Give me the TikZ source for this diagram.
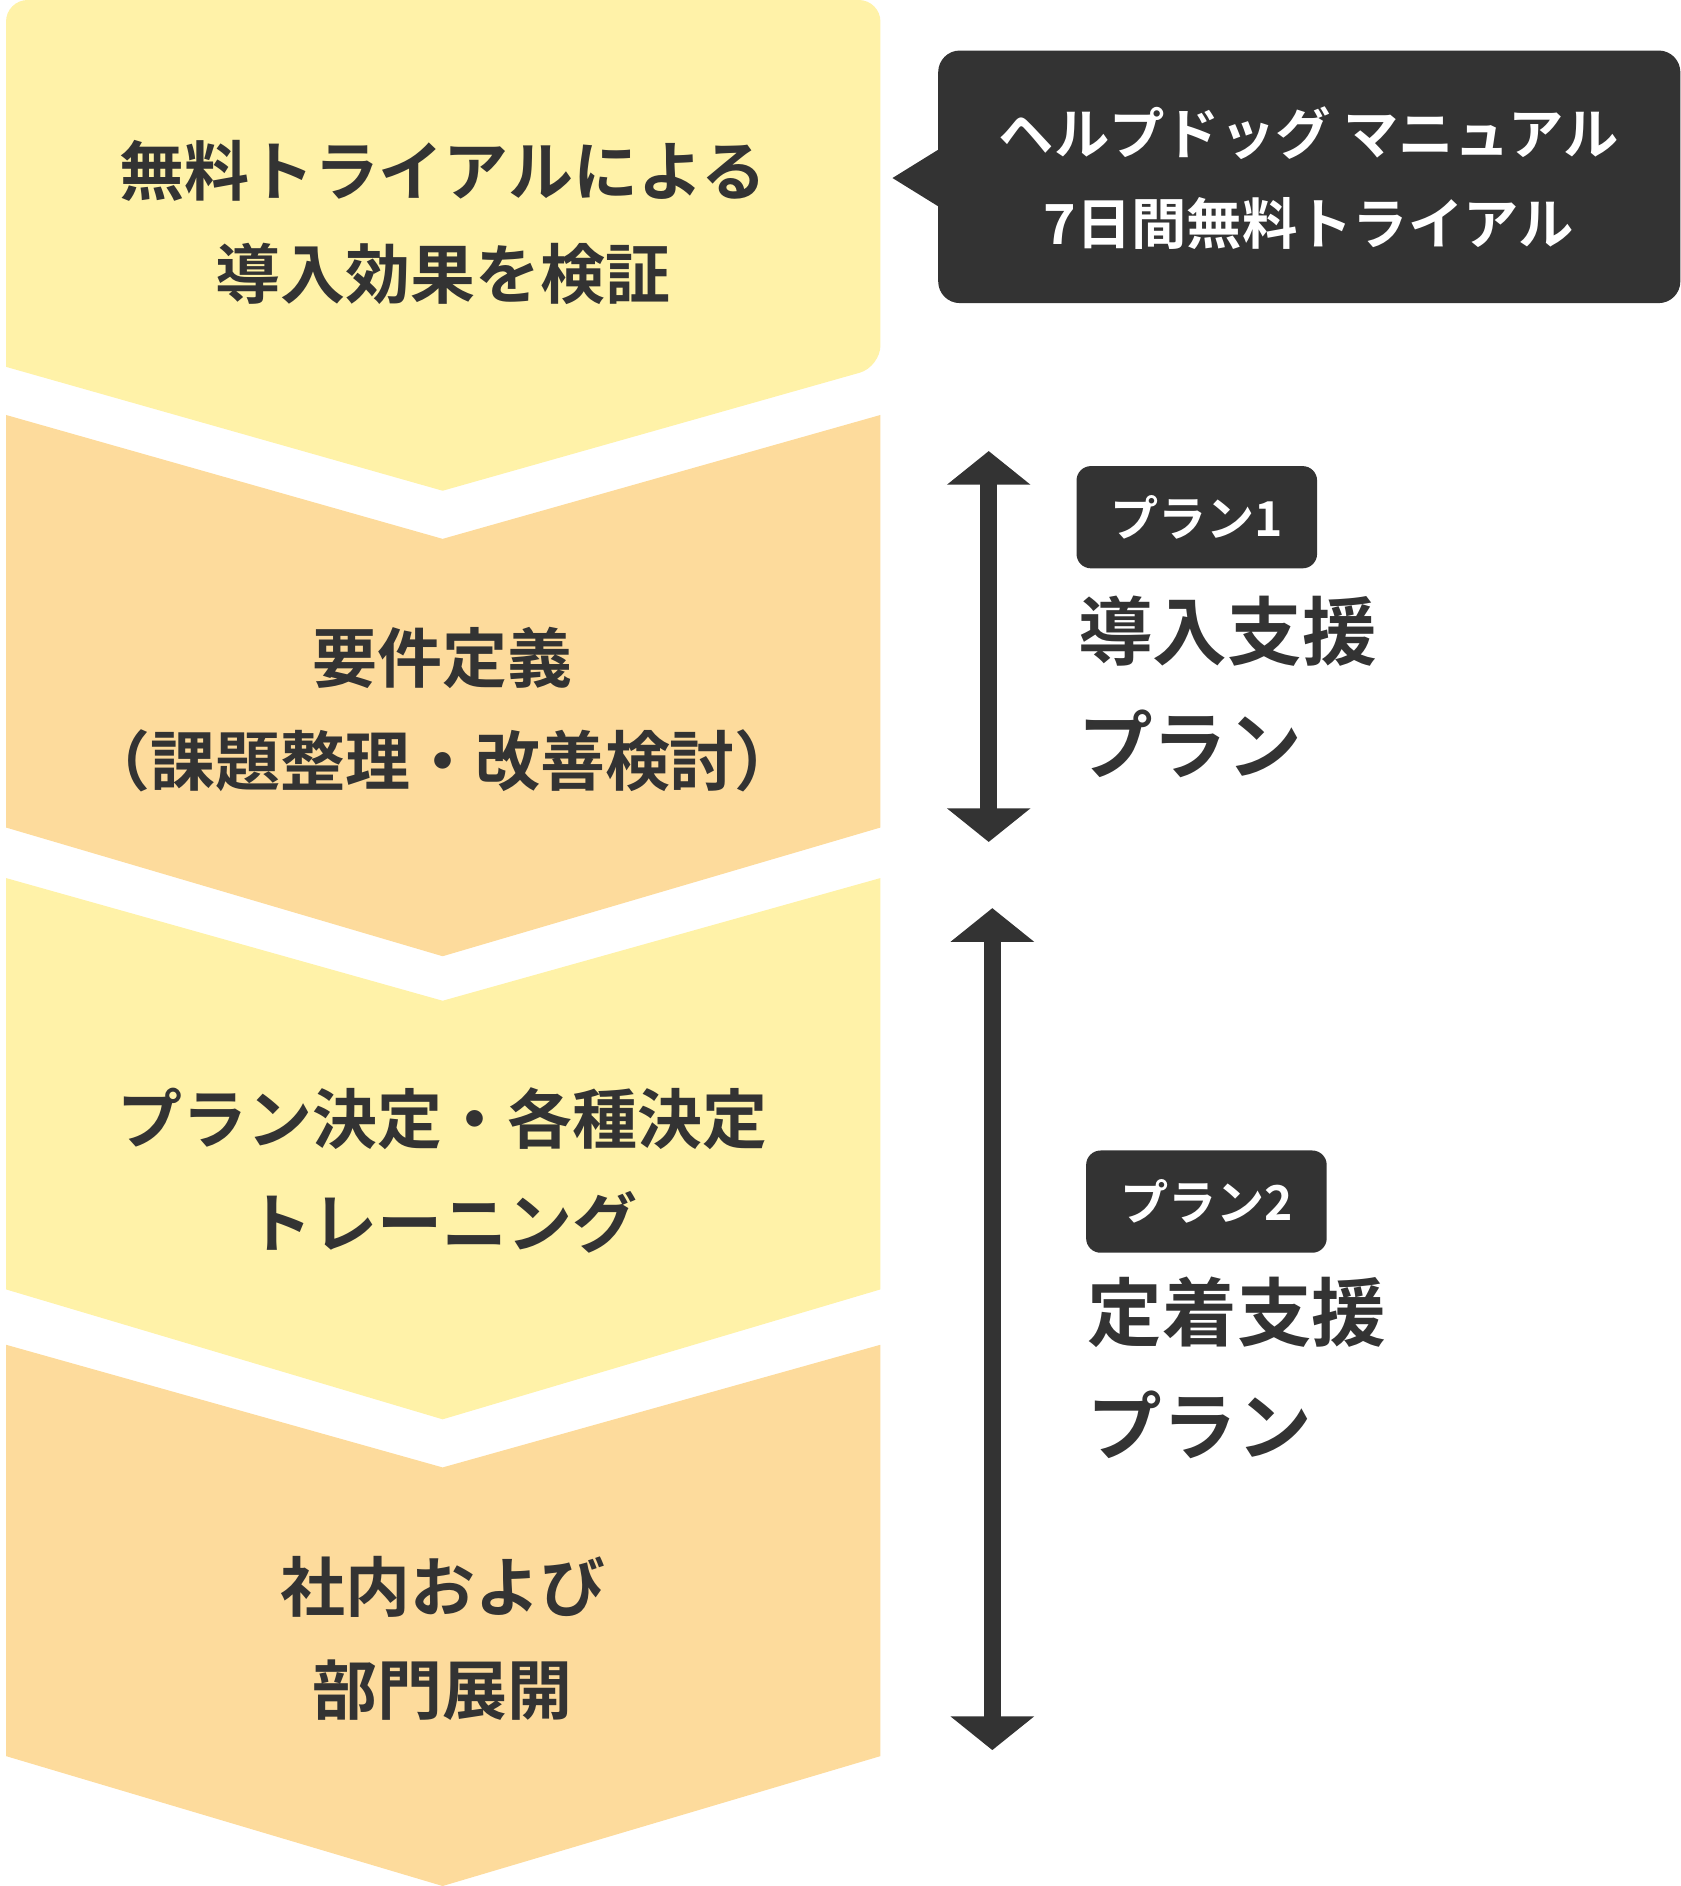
\documentclass[tikz,border=0pt]{standalone}
\usepackage{fontspec}
\setmainfont{Noto Sans CJK JP}[UprightFont=* Bold]
\usetikzlibrary{arrows.meta}
\definecolor{lightY}{HTML}{FFF2A8}
\definecolor{orangeY}{HTML}{FDDB9C}
\definecolor{dark}{HTML}{333333}
\begin{document}
\begin{tikzpicture}[x=1pt,y=-1pt,
  chev/.style={font=\fontsize{54}{86}\selectfont,text=dark,align=center},
  plan/.style={font=\fontsize{62}{95}\selectfont,text=dark,align=left,anchor=north west},
  badge/.style={fill=dark,text=white,rounded corners=12pt,minimum width=200pt,minimum height=85pt,font=\fontsize{40}{40}\selectfont,inner sep=0pt},
  dbl/.style={line width=14pt,draw=dark,{Triangle[width=68pt,length=28pt]}-{Triangle[width=68pt,length=28pt]}}]
\useasboundingbox (0,0) rectangle (1397,1568);
% chevrons
\fill[lightY,rounded corners=18pt] (5,305) -- (5,0) -- (732,0) -- (732,305) [sharp corners] -- (368,408) -- cycle;
\fill[orangeY] (5,345) -- (368,448) -- (732,345) -- (732,688) -- (368,795) -- (5,688) -- cycle;
\fill[lightY] (5,730) -- (368,832) -- (732,730) -- (732,1072) -- (368,1180) -- (5,1072) -- cycle;
\fill[orangeY] (5,1118) -- (368,1220) -- (732,1118) -- (732,1460) -- (368,1568) -- (5,1460) -- cycle;
\node[chev] (s1) at (368,185) {無料トライアルによる\\導入効果を検証};
\node[chev] (s2) at (368,590) {要件定義\\（課題整理・改善検討）};
\node[chev] (s3) at (368,973) {プラン決定・各種決定\\トレーニング};
\node[chev] (s4) at (368,1362) {社内および\\部門展開};
% callout
\fill[dark,rounded corners=18pt] (780,42) rectangle (1397,252);
\fill[dark] (742,148) -- (784,122) -- (784,174) -- cycle;
\node[text=white,font=\fontsize{46}{75}\selectfont,align=center] (c) at (1088,148) {ヘルプドッグ マニュアル\\7日間無料トライアル};
% arrows
\coordinate (a1t) at (822,375); \coordinate (a1b) at (822,700);
\coordinate (a2t) at (825,755); \coordinate (a2b) at (825,1455);
\draw[dbl] (a1t) -- (a1b);
\draw[dbl] (a2t) -- (a2b);
% plans
\node[badge] (b1) at (995,430) {プラン1};
\node[plan] (p1) at (893,492) {導入支援\\プラン};
\node[badge] (b2) at (1003,999) {プラン2};
\node[plan] (p2) at (901,1058) {定着支援\\プラン};
\end{tikzpicture}
\end{document}
